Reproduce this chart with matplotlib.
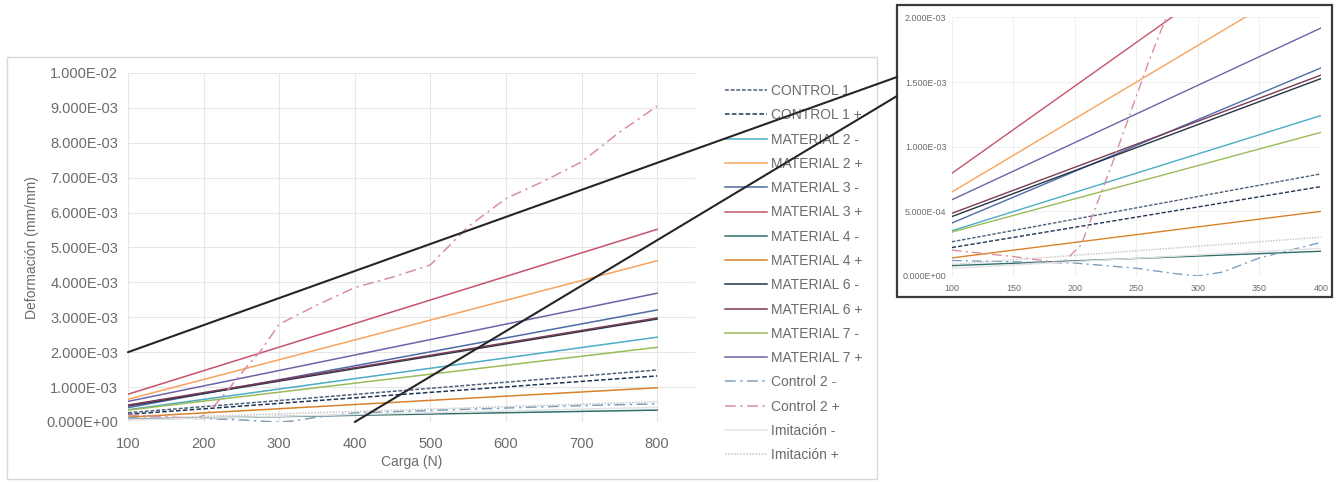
import matplotlib.pyplot as plt
from matplotlib.patches import Rectangle, ConnectionPatch
from matplotlib.ticker import FuncFormatter

plt.rcParams['font.family'] = ['Liberation Sans', 'DejaVu Sans']

# cargas (N) y deformaciones unitarias (mm/mm)
x_lin = [100, 800]

control1_neg = [2.65e-4, 1.49e-3]
control1_pos = [2.2e-4, 1.32e-3]
mat2_neg = [3.5e-4, 2.43e-3]
mat2_pos = [6.5e-4, 4.62e-3]
mat3_neg = [4.1e-4, 3.21e-3]
mat3_pos = [7.95e-4, 5.52e-3]
mat4_neg = [8.0e-5, 3.4e-4]
mat4_pos = [1.4e-4, 9.8e-4]
mat6_neg = [4.6e-4, 2.95e-3]
mat6_pos = [4.85e-4, 2.98e-3]
mat7_neg = [3.4e-4, 2.14e-3]
mat7_pos = [5.9e-4, 3.69e-3]

x_c2_neg = [100, 150, 200, 250, 280, 300, 320, 350, 400, 500, 600, 700, 800]
control2_neg = [1.2e-4, 1.1e-4, 1.0e-4, 6e-5, 2e-5, 0.0, 3e-5, 1.4e-4, 2.6e-4, 3.3e-4, 4.0e-4, 4.7e-4, 5.2e-4]

x_c2_pos = [100, 150, 190, 205, 230, 260, 275, 300, 350, 400, 450, 500, 550, 600, 650, 700, 750, 800]
control2_pos = [2.0e-4, 1.5e-4, 1.0e-4, 2.4e-4, 8.6e-4, 1.66e-3, 2.02e-3, 2.8e-3, 3.35e-3, 3.85e-3, 4.15e-3,
                4.5e-3, 5.6e-3, 6.4e-3, 6.9e-3, 7.45e-3, 8.3e-3, 9.05e-3]

imit_neg = [6e-5, 4.2e-4]
imit_pos = [9e-5, 5.8e-4]

series = [
    ("CONTROL 1 -", x_lin, control1_neg, '#4f6178', (0, (2.5, 1.2))),
    ("CONTROL 1 +", x_lin, control1_pos, '#1f3654', (0, (3, 1.5))),
    ("MATERIAL 2 -", x_lin, mat2_neg, '#4bacc6', '-'),
    ("MATERIAL 2 +", x_lin, mat2_pos, '#f7a35c', '-'),
    ("MATERIAL 3 -", x_lin, mat3_neg, '#4f6aa8', '-'),
    ("MATERIAL 3 +", x_lin, mat3_pos, '#c5546a', '-'),
    ("MATERIAL 4 -", x_lin, mat4_neg, '#2f6f6a', '-'),
    ("MATERIAL 4 +", x_lin, mat4_pos, '#d9822b', '-'),
    ("MATERIAL 6 -", x_lin, mat6_neg, '#263445', '-'),
    ("MATERIAL 6 +", x_lin, mat6_pos, '#7b3b55', '-'),
    ("MATERIAL 7 -", x_lin, mat7_neg, '#9bbb59', '-'),
    ("MATERIAL 7 +", x_lin, mat7_pos, '#6a64a8', '-'),
    ("Control 2 -", x_c2_neg, control2_neg, '#7f9fbf', (0, (7, 3, 1.5, 3))),
    ("Control 2 +", x_c2_pos, control2_pos, '#d98fa0', (0, (7, 3, 1.5, 3))),
    ("Imitación -", x_lin, imit_neg, '#e3e3e3', '-'),
    ("Imitación +", x_lin, imit_pos, '#c4c4c4', (0, (1, 1))),
]

sci = FuncFormatter(lambda v, p: f"{v:.3E}")
grey = '#6b6b6b'

fig = plt.figure(figsize=(13.4, 4.82), dpi=100)

# marco del gráfico principal
fig.patches.append(Rectangle((7 / 1340, 1 - 479 / 482), 870 / 1340, 422 / 482,
                             transform=fig.transFigure, fill=False, ec='#d9d9d9', lw=1))

ax = fig.add_axes([0.0955, 0.1245, 0.4231, 0.7241])
lines = []
for label, xs, ys, color, ls in series:
    ln, = ax.plot(xs, ys, color=color, ls=ls, lw=1.1, label=label)
    lines.append(ln)

ax.set_xlim(100, 850)
ax.set_ylim(0, 0.01)
ax.set_xticks(range(100, 801, 100))
ax.set_yticks([i * 0.001 for i in range(11)])
ax.yaxis.set_major_formatter(sci)
ax.grid(True, color='#e6e6e6', lw=0.8)
ax.set_axisbelow(True)
for s in ax.spines.values():
    s.set_visible(False)
ax.tick_params(length=0, labelsize=10.5, colors=grey)
ax.tick_params(axis='x', pad=10.5)
ax.tick_params(axis='y', pad=7)
ax.set_xlabel("Carga (N)", fontsize=10, color=grey, labelpad=3)
ax.set_ylabel("Deformación (mm/mm)", fontsize=10, color=grey, labelpad=5)

fig.legend(handles=lines, loc='upper left', bbox_to_anchor=(725 / 1340, 1 - 84 / 482),
           frameon=False, fontsize=10, labelspacing=0.74, handlelength=3.0,
           handletextpad=0.3, labelcolor=grey, borderaxespad=0, borderpad=0)

# detalle ampliado
fig.patches.append(Rectangle((897 / 1340, 1 - 297 / 482), 435 / 1340, 292 / 482,
                             transform=fig.transFigure, fill=False, ec='#3a3a3a', lw=1.6, zorder=5))
axi = fig.add_axes([0.7104, 0.4274, 0.2754, 0.5363])
for label, xs, ys, color, ls in series:
    axi.plot(xs, ys, color=color, ls=ls, lw=1.0)
axi.set_xlim(100, 400)
axi.set_ylim(0, 0.002)
axi.set_xticks(range(100, 401, 50))
axi.set_yticks([0, 0.0005, 0.001, 0.0015, 0.002])
axi.yaxis.set_major_formatter(sci)
axi.grid(True, color='#ececec', lw=0.6)
axi.set_axisbelow(True)
for s in axi.spines.values():
    s.set_visible(False)
axi.tick_params(length=0, labelsize=6.5, colors=grey)
axi.tick_params(axis='x', pad=5.5)
axi.tick_params(axis='y', pad=4)

# líneas de conexión entre la zona ampliada y el detalle
for xy, yb in [((100, 0.002), 77), ((400, 0.0), 96)]:
    con = ConnectionPatch(xyA=xy, coordsA=ax.transData,
                          xyB=(897 / 1340, 1 - yb / 482), coordsB=fig.transFigure,
                          color='#262626', lw=1.5, zorder=10)
    fig.add_artist(con)

fig.savefig("out.png", dpi=100)
